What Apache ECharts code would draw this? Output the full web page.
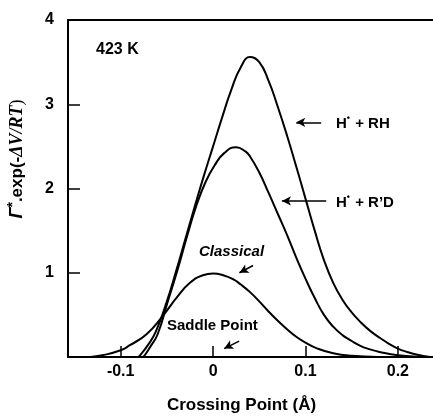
<!DOCTYPE html>
<html>
<head>
<meta charset="utf-8">
<script src="https://cdn.jsdelivr.net/npm/echarts@6/dist/echarts.min.js"></script>
<style>
  html, body { margin: 0; padding: 0; background: #fff; }
  #chart { width: 433px; height: 419px; }
</style>
</head>
<body>
<div id="chart"></div>
<script>
// values (x in Å, y = Γ*·exp(-ΔV/RT))
const rhX = [-0.081, -0.079, -0.07, -0.062, -0.05, -0.04, -0.03, -0.02, -0.01, 0, 0.01, 0.02, 0.03, 0.04, 0.05, 0.06, 0.07, 0.08, 0.09, 0.10, 0.11, 0.12, 0.13, 0.14, 0.15, 0.16, 0.17, 0.18, 0.19, 0.20, 0.21, 0.22, 0.235]
const rhY = [0, 0.02, 0.15, 0.3, 0.66, 1.02, 1.40, 1.78, 2.15, 2.50, 2.85, 3.18, 3.44, 3.56, 3.50, 3.28, 2.97, 2.63, 2.26, 1.88, 1.50, 1.15, 0.88, 0.68, 0.53, 0.41, 0.31, 0.23, 0.16, 0.10, 0.06, 0.03, 0]

const rdX = [-0.076, -0.074, -0.068, -0.06, -0.049, -0.038, -0.028, -0.018, -0.008, 0.002, 0.012, 0.025, 0.035, 0.04, 0.05, 0.06, 0.07, 0.08, 0.09, 0.10, 0.11, 0.12, 0.13, 0.14, 0.15, 0.16, 0.17, 0.18, 0.20, 0.225]
const rdY = [0, 0.02, 0.12, 0.27, 0.66, 1.05, 1.44, 1.80, 2.08, 2.28, 2.42, 2.49, 2.44, 2.38, 2.19, 1.95, 1.70, 1.45, 1.18, 0.93, 0.70, 0.50, 0.36, 0.26, 0.19, 0.13, 0.09, 0.06, 0.02, 0]

const clX = [-0.133, -0.12, -0.1, -0.09, -0.072, -0.055, -0.039, -0.025, -0.011, 0, 0.011, 0.022, 0.03, 0.04, 0.05, 0.06, 0.07, 0.08, 0.09, 0.10, 0.113, 0.13, 0.15, 0.178]
const clY = [0, 0.02, 0.08, 0.14, 0.27, 0.48, 0.71, 0.88, 0.97, 0.99, 0.97, 0.92, 0.86, 0.77, 0.66, 0.54, 0.43, 0.33, 0.24, 0.17, 0.10, 0.045, 0.015, 0]

const xTicks = [-0.1, 0, 0.1, 0.2]

const FONT = 'Liberation Sans, Arial, sans-serif'
const zip = (xs, ys) => xs.map((x, i) => [x, ys[i]])

const chart = echarts.init(document.getElementById('chart'))

const lineSeries = (name, xs, ys) => ({
  name,
  type: 'line',
  data: zip(xs, ys),
  smooth: 0.5,
  showSymbol: false,
  lineStyle: { color: '#000', width: 2 },
  silent: true
})

const arrow = (from, to) => [
  { coord: from, symbol: 'none' },
  { coord: to, symbol: 'arrow' }
]

const clSeries = lineSeries('Classical', clX, clY)
clSeries.markLine = {
  silent: true,
  symbolSize: [7, 9],
  label: { show: false },
  lineStyle: { color: '#000', width: 1.5, type: 'solid' },
  data: [
    arrow([0.117, 2.785], [0.090, 2.785]),
    arrow([0.1224, 1.853], [0.0745, 1.853]),
    arrow([0.0433, 1.086], [0.0285, 1.0]),
    arrow([0.0282, 0.189], [0.012, 0.10])
  ]
}

// superscript radical dot
const supDot = { fontFamily: FONT, fontSize: 9, fontWeight: 'bold', padding: [0, 1, 10, 0] }

chart.setOption({
  animation: false,
  backgroundColor: '#fff',
  grid: { left: 68, right: 0, top: 20, bottom: 60 },
  xAxis: [
    {
      type: 'value',
      min: -0.157,
      max: 0.238,
      name: 'Crossing Point (Å)',
      nameLocation: 'middle',
      nameGap: 40,
      nameTextStyle: { fontFamily: FONT, fontWeight: 'bold', fontSize: 17, color: '#000', padding: [0, 18, 0, 0] },
      axisLine: { lineStyle: { color: '#000', width: 2 } },
      axisTick: { inside: true, length: 11, customValues: xTicks, lineStyle: { color: '#000', width: 1.5 } },
      axisLabel: {
        customValues: xTicks,
        margin: 7,
        fontFamily: FONT, fontWeight: 'bold', fontSize: 16, color: '#000',
        formatter: v => (v === 0 ? '0' : v.toFixed(1))
      },
      splitLine: { show: false }
    },
    {
      type: 'value',
      position: 'top',
      min: -0.157,
      max: 0.238,
      axisLine: { onZero: false, lineStyle: { color: '#000', width: 2 } },
      axisTick: { show: false },
      axisLabel: { show: false },
      splitLine: { show: false }
    }
  ],
  yAxis: {
    type: 'value',
    min: 0,
    max: 4,
    interval: 1,
    axisLine: { show: true, onZero: false, lineStyle: { color: '#000', width: 2 } },
    axisTick: { show: true, inside: true, length: 12, lineStyle: { color: '#000', width: 1.5 } },
    axisLabel: {
      margin: 14,
      fontFamily: FONT, fontWeight: 'bold', fontSize: 16, color: '#000',
      formatter: v => (v === 0 ? '' : String(v))
    },
    splitLine: { show: false }
  },
  graphic: [
    {
      type: 'text', x: 17, y: 159, rotation: Math.PI / 2,
      style: {
        text: '{g|Γ}{s|*}{b|.exp(-}{i|ΔV/RT}{p|)}',
        align: 'center', verticalAlign: 'middle', fill: '#000',
        rich: {
          g: { fontFamily: FONT, fontStyle: 'italic', fontSize: 18, fontWeight: 'bold' },
          s: { fontFamily: FONT, fontSize: 14, fontWeight: 'bold', padding: [0, 0, 8, 0] },
          b: { fontFamily: FONT, fontSize: 17, fontWeight: 'bold' },
          i: { fontFamily: 'Liberation Serif, serif', fontStyle: 'italic', fontWeight: 'bold', fontSize: 18 },
          p: { fontFamily: 'Liberation Serif, serif', fontSize: 18 }
        }
      }
    },
    {
      type: 'text', x: 96, y: 50,
      style: { text: '423 K', fontFamily: FONT, fontWeight: 'bold', fontSize: 16, fill: '#000', verticalAlign: 'middle' }
    },
    {
      type: 'text', x: 336, y: 124,
      style: {
        text: '{b|H}{s|•}{b| + RH}', verticalAlign: 'middle', fill: '#000',
        rich: { b: { fontFamily: FONT, fontWeight: 'bold', fontSize: 15 }, s: supDot }
      }
    },
    {
      type: 'text', x: 336, y: 203,
      style: {
        text: '{b|H}{s|•}{b| + R’D}', verticalAlign: 'middle', fill: '#000',
        rich: { b: { fontFamily: FONT, fontWeight: 'bold', fontSize: 15 }, s: supDot }
      }
    },
    {
      type: 'text', x: 199, y: 252,
      style: { text: 'Classical', fontFamily: FONT, fontStyle: 'italic', fontWeight: 'bold', fontSize: 15, fill: '#000', verticalAlign: 'middle' }
    },
    {
      type: 'text', x: 167, y: 326,
      style: { text: 'Saddle Point', fontFamily: FONT, fontWeight: 'bold', fontSize: 15, fill: '#000', verticalAlign: 'middle' }
    }
  ],
  series: [
    lineSeries('H• + RH', rhX, rhY),
    lineSeries('H• + R’D', rdX, rdY),
    clSeries
  ]
})
</script>
</body>
</html>
